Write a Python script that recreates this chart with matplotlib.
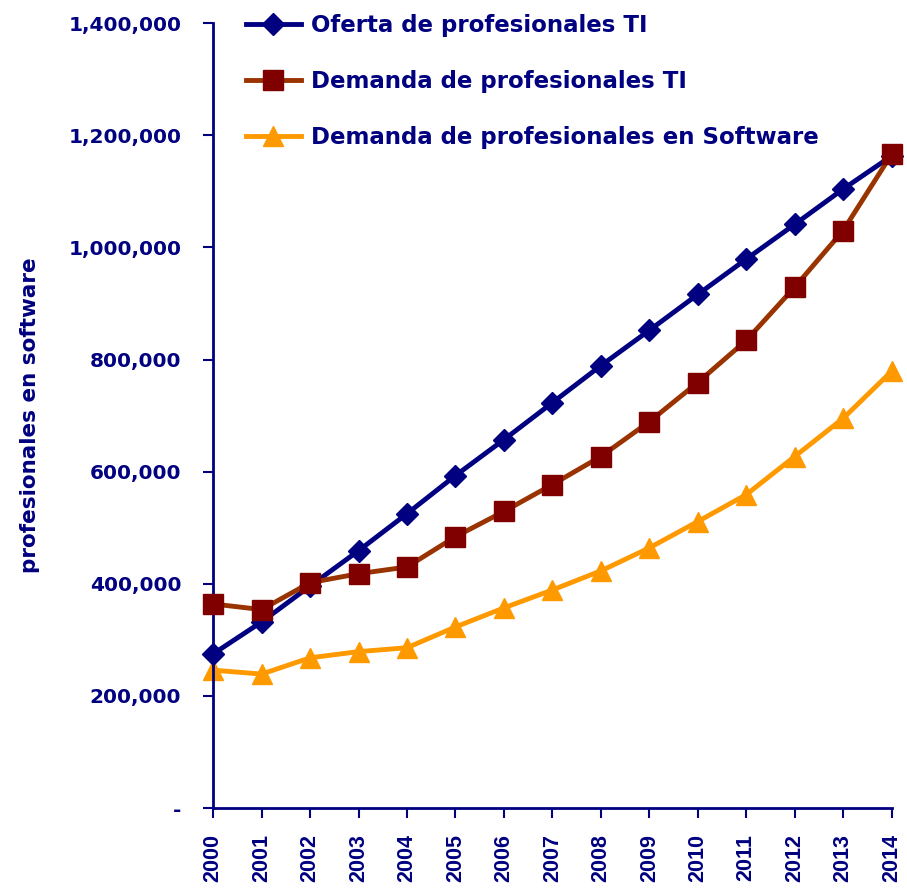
import matplotlib.pyplot as plt
import matplotlib.ticker as mticker

# -------------------------------
# Data
# -------------------------------

years = list(range(2000, 2015))

oferta_ti = [275000, 332000, 396000, 459000, 525000, 593000, 657000, 723000,
             789000, 852000, 916000, 979000, 1041000, 1104000, 1163000]
demanda_ti = [364000, 354000, 402000, 418000, 430000, 484000, 529000, 577000,
              627000, 689000, 759000, 834000, 929000, 1030000, 1166000]
demanda_sw = [246000, 239000, 268000, 279000, 286000, 323000, 357000, 389000,
              423000, 464000, 511000, 559000, 627000, 695000, 779000]

labels = ['Oferta de profesionales TI',
          'Demanda de profesionales TI',
          'Demanda de profesionales en Software']

y_label = 'profesionales en software'

navy = '#000080'

# -------------------------------
# Plot
# -------------------------------

fig = plt.figure(figsize=(9.07, 8.88), dpi=100)
ax = fig.add_axes([0.235, 0.090, 0.748, 0.884])

ax.plot(years, oferta_ti, color=navy, lw=3.5, marker='D', ms=11,
        mfc=navy, mec=navy, clip_on=False, zorder=3, label=labels[0])
ax.plot(years, demanda_ti, color='#993300', lw=3.5, marker='s', ms=14,
        mfc='#800000', mec='#800000', clip_on=False, zorder=4, label=labels[1])
ax.plot(years, demanda_sw, color='#FF9900', lw=3.5, marker='^', ms=15,
        mfc='#FF9900', mec='#FF9900', clip_on=False, zorder=2, label=labels[2])

ax.set_xlim(2000, 2014)
ax.set_ylim(0, 1400000)
ax.set_xticks(years)
ax.set_xticklabels([str(y) for y in years], rotation=90,
                   fontsize=15.5, fontweight='bold', color=navy,
                   family='Liberation Sans')
ax.set_yticks(range(0, 1400001, 200000))
ax.yaxis.set_major_formatter(mticker.FuncFormatter(
    lambda v, p: '-' if v == 0 else f'{int(v):,}'))
for t in ax.get_yticklabels():
    t.set_fontsize(14.5)
    t.set_fontweight('bold')
    t.set_color(navy)

ax.tick_params(axis='both', direction='out', length=7, width=1.5,
               color=navy)
ax.tick_params(axis='y', pad=16)
ax.tick_params(axis='x', pad=12)
for s in ['top', 'right']:
    ax.spines[s].set_visible(False)
for s in ['left', 'bottom']:
    ax.spines[s].set_color(navy)
    ax.spines[s].set_linewidth(2)

ax.set_ylabel(y_label, fontsize=15.5, fontweight='bold', color=navy)
ax.yaxis.set_label_coords(-0.255, 0.5)

leg = ax.legend(loc='upper left', bbox_to_anchor=(0.018, 1.038), frameon=False,
                handlelength=2.4, handletextpad=0.45, labelspacing=1.45,
                prop={'size': 16.5, 'weight': 'bold'})
for t in leg.get_texts():
    t.set_color(navy)

plt.savefig('out.png', dpi=100)
